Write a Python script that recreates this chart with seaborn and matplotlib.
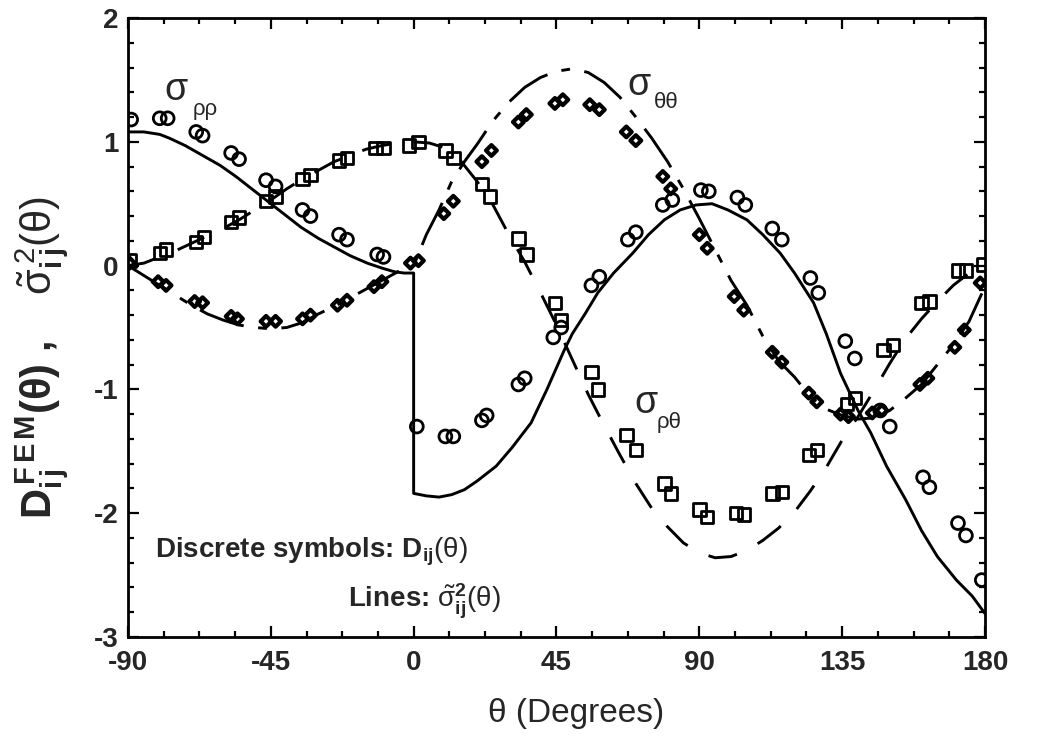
import numpy as np
import pandas as pd
import matplotlib
matplotlib.use("Agg")
import matplotlib.pyplot as plt
import seaborn as sns
from matplotlib.ticker import MultipleLocator

# ---------------- data ----------------
# Lines: theoretical sigma~^2_ij(theta)
rr_theta = [-90, -85, -80, -77, -72, -66.5, -61, -56, -51, -46, -41, -35.5, -30, -25, -20, -14.6, -10, -6, -3, 0,
            0, 4, 8, 12, 16, 20, 26, 31, 37, 42, 47.5, 50, 54, 58, 63, 69, 74, 79, 84, 89, 94, 99, 105, 110, 115.5,
            120, 126, 130, 134.5, 140, 144, 149, 155, 160, 165, 171, 176, 180]
rr_value = [1.08, 1.08, 1.06, 1.03, 0.97, 0.89, 0.81, 0.72, 0.62, 0.52, 0.42, 0.31, 0.22, 0.15, 0.08, 0.02, -0.02, -0.05, -0.06, -0.06,
            -1.84, -1.86, -1.87, -1.85, -1.81, -1.74, -1.62, -1.47, -1.27, -1.00, -0.68, -0.55, -0.39, -0.22, -0.06, 0.10, 0.25, 0.37, 0.45, 0.49, 0.50, 0.45, 0.37, 0.25, 0.10,
            -0.06, -0.30, -0.55, -0.87, -1.17, -1.35, -1.62, -1.89, -2.14, -2.35, -2.54, -2.67, -2.81]

rt_theta = [-90, -85, -80, -75, -70, -65, -60, -55, -50, -45, -40, -35, -30, -25, -20, -15, -10, -5, 0,
            5, 10, 15, 20, 25, 30, 35, 40, 45, 50, 55, 60, 65, 70, 75, 80, 85, 90, 95, 100, 105, 110, 115, 120,
            125, 130, 135, 140, 145, 150, 155, 160, 165, 170, 175, 180]
rt_value = [0.0, 0.02, 0.07, 0.12, 0.18, 0.24, 0.30, 0.37, 0.45, 0.53, 0.62, 0.70, 0.77, 0.84, 0.89, 0.94, 0.97, 0.99, 1.00,
            0.99, 0.95, 0.84, 0.68, 0.49, 0.25, 0.03, -0.22, -0.48, -0.76, -1.04, -1.29, -1.53, -1.76, -1.96, -2.11, -2.24, -2.32, -2.36, -2.35, -2.30, -2.22, -2.12, -1.99,
            -1.82, -1.63, -1.41, -1.22, -1.01, -0.79, -0.59, -0.43, -0.29, -0.16, -0.06, 0.0]

tt_theta = [-90, -85, -80, -75, -70, -65, -60, -55, -50, -45, -40, -35, -30, -25, -20, -15, -10, -5, 0,
            4, 8, 12, 16, 20, 25, 30, 35, 40, 45, 50, 55, 60, 65, 70, 75, 80, 85, 90, 95, 100, 105, 110, 115, 120,
            125, 130, 135, 140, 145, 150, 155, 160, 165, 170, 175, 180]
tt_value = [0.0, -0.08, -0.16, -0.24, -0.32, -0.39, -0.44, -0.48, -0.50, -0.51, -0.50, -0.46, -0.39, -0.33, -0.26, -0.19, -0.12, -0.05, 0.0,
            0.25, 0.45, 0.68, 0.84, 0.98, 1.17, 1.32, 1.44, 1.52, 1.57, 1.59, 1.56, 1.48, 1.36, 1.20, 1.03, 0.84, 0.62, 0.38, 0.13, -0.12, -0.32, -0.57, -0.77, -0.90,
            -1.06, -1.16, -1.21, -1.24, -1.23, -1.17, -1.07, -0.96, -0.80, -0.64, -0.45, -0.17]

# Discrete symbols: D_ij(theta)
circ_theta = [-89, -80, -77.5, -68.5, -66.5, -57.5, -55, -46.5, -43.5, -35, -32.5, -23.5, -21, -11.5, -9.5,
              1, 10, 12.5, 21.5, 23, 33, 35, 44, 46.5, 56, 58.5, 67.5, 70, 78.5, 81.5, 90.5, 93, 102, 104.5,
              113, 116, 125, 127.5, 136, 139, 147, 150, 160.5, 162.5, 171.5, 174, 179]
circ_value = [1.18, 1.19, 1.19, 1.08, 1.05, 0.91, 0.86, 0.69, 0.64, 0.45, 0.40, 0.25, 0.21, 0.09, 0.07,
              -1.30, -1.38, -1.38, -1.25, -1.21, -0.96, -0.91, -0.58, -0.50, -0.16, -0.09, 0.21, 0.27, 0.49, 0.53, 0.61, 0.60, 0.55, 0.49,
              0.30, 0.21, -0.10, -0.22, -0.61, -0.75, -1.17, -1.30, -1.71, -1.79, -2.08, -2.18, -2.54]

sq_theta = [-89.5, -80, -78, -68.5, -66, -57.5, -55, -46.5, -43.5, -35, -32.5, -23.5, -21, -12, -9.5, -1.5, 1.5,
            10, 12.5, 21.5, 24, 33, 35.5, 44.5, 46.5, 56, 58, 67, 70, 79, 81, 90, 92.5, 101.5, 104, 113, 116,
            124.5, 127, 136.5, 139, 148, 151, 160, 162.5, 171.5, 174, 179.5]
sq_value = [0.04, 0.10, 0.13, 0.19, 0.23, 0.35, 0.39, 0.52, 0.56, 0.70, 0.73, 0.85, 0.87, 0.95, 0.95, 0.97, 1.00,
            0.93, 0.87, 0.66, 0.56, 0.22, 0.09, -0.30, -0.44, -0.86, -1.00, -1.37, -1.49, -1.76, -1.84, -1.97, -2.03, -2.00, -2.01, -1.84, -1.83,
            -1.53, -1.49, -1.12, -1.07, -0.68, -0.64, -0.30, -0.29, -0.04, -0.04, 0.01]

dia_theta = [-89.5, -80.5, -78, -69, -66.5, -57.5, -55.5, -46.5, -43.5, -35, -32.5, -24, -21, -12.5, -10, -1, 1.5,
             9.5, 12.5, 21.5, 24.5, 33, 35.5, 44.5, 47, 55.5, 58.5, 67, 70, 78.5, 81, 90, 92.5, 101, 104, 113, 116,
             124.5, 127, 134.5, 137, 144.5, 147.5, 159.5, 162, 170.5, 173.5, 178.5]
dia_value = [0.02, -0.13, -0.16, -0.29, -0.30, -0.41, -0.43, -0.45, -0.45, -0.43, -0.40, -0.32, -0.28, -0.17, -0.13, 0.02, 0.04,
             0.42, 0.52, 0.84, 0.93, 1.16, 1.22, 1.31, 1.34, 1.30, 1.26, 1.08, 1.01, 0.72, 0.62, 0.25, 0.14, -0.25, -0.36, -0.70, -0.78,
             -1.03, -1.10, -1.20, -1.22, -1.19, -1.17, -0.96, -0.91, -0.66, -0.52, -0.14]

x_ticks = [-90, -45, 0, 45, 90, 135, 180]
x_ticklabels = ["-90", "-45", "0", "45", "90", "135", "180"]
y_ticks = [-3, -2, -1, 0, 1, 2]
y_ticklabels = ["-3", "-2", "-1", "0", "1", "2"]

# ---------------- style ----------------
sns.set_style("ticks")
plt.rcParams["font.family"] = ["Liberation Sans", "DejaVu Sans"]
plt.rcParams["mathtext.fontset"] = "custom"
plt.rcParams["mathtext.rm"] = "Liberation Sans"
plt.rcParams["mathtext.it"] = "Liberation Sans"
plt.rcParams["mathtext.bf"] = "Liberation Sans:bold"
plt.rcParams["mathtext.fallback"] = "stixsans"

fig = plt.figure(figsize=(10.38, 7.48), dpi=100)
ax = fig.add_axes([0.1233, 0.1484, 0.8256, 0.8275])

lw = 2.1
df_rr = pd.DataFrame({"theta": rr_theta, "value": rr_value})
df_rt = pd.DataFrame({"theta": rt_theta, "value": rt_value})
df_tt = pd.DataFrame({"theta": tt_theta, "value": tt_value})

sns.lineplot(data=df_rr, x="theta", y="value", sort=False, estimator=None, color="black", lw=lw, ax=ax)
sns.lineplot(data=df_rt, x="theta", y="value", sort=False, estimator=None, color="black", lw=lw, ax=ax)
ax.lines[-1].set_dashes([10, 8])
sns.lineplot(data=df_tt, x="theta", y="value", sort=False, estimator=None, color="black", lw=lw, ax=ax)
ax.lines[-1].set_dashes([16, 5, 3, 5])

sns.scatterplot(x=circ_theta, y=circ_value, marker="o", s=85, facecolor="none", edgecolor="black", linewidth=2.0, ax=ax, zorder=3)
sns.scatterplot(x=sq_theta, y=sq_value, marker="s", s=80, facecolor="none", edgecolor="black", linewidth=2.0, ax=ax, zorder=3)
sns.scatterplot(x=dia_theta, y=dia_value, marker="D", s=30, facecolor="none", edgecolor="black", linewidth=3.0, ax=ax, zorder=3)

ax.set_xlim(-90, 180)
ax.set_ylim(-3, 2)
ax.set_xticks(x_ticks)
ax.set_xticklabels(x_ticklabels)
ax.set_yticks(y_ticks)
ax.set_yticklabels(y_ticklabels)
ax.xaxis.set_minor_locator(MultipleLocator(11.25))
ax.yaxis.set_minor_locator(MultipleLocator(0.2))
ax.tick_params(which="both", direction="in", top=True, right=True, color="black", width=1.6)
ax.tick_params(which="major", length=8)
ax.tick_params(which="minor", length=4)
ax.tick_params(axis="x", which="major", pad=9.5, labelsize=20)
ax.tick_params(axis="y", which="major", pad=7, labelsize=20)
for lab in ax.get_xticklabels() + ax.get_yticklabels():
    lab.set_fontweight("bold")
for sp in ax.spines.values():
    sp.set_linewidth(2.0)
    sp.set_color("black")

ax.set_xlabel(r"θ (Degrees)", fontsize=24)
ax.xaxis.set_label_coords(0.523, -0.098)
ax.set_ylabel(r"$\mathbf{D}_{\mathbf{i\,j}}^{\,\mathbf{F\,E\,M}}\mathbf{(\theta)}$ ,    $\tilde{\sigma}_{\mathbf{i\,j}}^{\,2}(\theta)$",
              fontsize=30, fontweight="bold")
ax.yaxis.set_label_coords(-0.066, 0.452)

# curve labels
ax.text(-74.8, 1.42, "σ", fontsize=27, ha="center", va="center")
ax.text(-65.7, 1.26, "ρρ", fontsize=16, ha="center", va="center")
ax.text(70.9, 1.46, "σ", fontsize=27, ha="center", va="center")
ax.text(79.5, 1.32, "θθ", fontsize=16, ha="center", va="center")
ax.text(73.2, -1.11, "σ", fontsize=27, ha="center", va="center")
ax.text(80.5, -1.27, "ρθ", fontsize=16, ha="center", va="center")

ax.text(0.031, 0.137, r"Discrete symbols: $\mathbf{D}_{\mathbf{ij}}(\theta)$", transform=ax.transAxes,
        fontsize=20, fontweight="bold", ha="left", va="center")
ax.text(0.435, 0.058, r"Lines: $\tilde{\sigma}_{\mathbf{ij}}^{\mathbf{2}}(\theta)$", transform=ax.transAxes,
        fontsize=20, fontweight="bold", ha="right", va="center")

fig.savefig("out.png", dpi=100)
